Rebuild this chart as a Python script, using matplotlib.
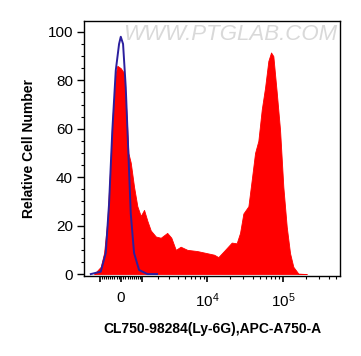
import matplotlib.pyplot as plt
import numpy as np

plt.rcParams['font.family'] = ['Liberation Sans', 'DejaVu Sans']
plt.rcParams['mathtext.fontset'] = 'custom'
plt.rcParams['mathtext.rm'] = 'Liberation Sans'

# sample histogram (red, filled)
sample_x = [-1354, -972, -799, -634, -503, -396, -240, -166, -13, 135, 258, 331,
            442, 600, 763, 939, 1120, 1312, 1524, 1870, 2247, 2820, 3243, 3755,
            4393, 5430, 7405, 10090, 12390, 14110, 17330, 21220, 24630, 27300,
            30180, 35170, 38950, 43040, 47560, 52760, 58320, 64400, 69900, 74940,
            83100, 91860, 101500, 112500, 124400, 137400, 160000, 206300]
sample_y = [0, 3, 8.7, 22, 43, 64, 83, 86, 85, 83, 64, 50,
            46, 36, 28, 24, 26.5, 22, 18, 15.5, 15, 17, 15, 10,
            11.3, 10, 9.5, 8.6, 8, 7, 10, 13, 12.7, 17,
            25, 28, 39, 50, 55, 68, 77, 88, 91.5, 90,
            75, 59.5, 36, 19.5, 8.6, 3, 0.2, 0]

# isotype control (blue line)
ctrl_x = [-1560, -972, -714, -552, -396, -240, -90, -13, 90, 212, 331, 442, 600,
          850, 1312, 1960]
ctrl_y = [0, 1, 8.7, 29, 59.5, 84, 95, 98, 95, 77, 50, 25, 8.7,
          1.7, 0, 0]

major_x = [-1000, 0, 1000, 1e4, 1e5]
major_lbl = ['', '0', '', r'$\mathregular{10^4}$', r'$\mathregular{10^5}$']
minor_x = list(range(-900, 1000, 100)) + [k * 1000 for k in range(2, 10)] + \
    [k * 10000 for k in range(2, 10)] + [k * 100000 for k in range(2, 6)]

W = 1484.0


def biex(x):
    # arcsinh display transform, roughly what the cytometer software uses
    return np.arcsinh(np.asarray(x, dtype=float) / W)


fig = plt.figure(figsize=(3.61, 3.56), dpi=100)
ax = fig.add_axes([0.2327, 0.2247, 0.7091, 0.7163])
ax.set_axisbelow(True)

sx = biex(sample_x)
ax.fill_between(sx, sample_y, 0, facecolor='#ff0000', edgecolor='#ff0000', lw=0.6, zorder=1)
ax.plot(biex(ctrl_x), ctrl_y, color='#2b1f9e', lw=1.4, zorder=3)

ax.set_xlim(biex(-2040), biex(565000))
ax.set_ylim(-0.8, 104.5)

ax.set_xticks(biex(major_x))
ax.set_xticklabels(major_lbl)
ax.set_xticks(biex(minor_x), minor=True)

ax.set_yticks([0, 20, 40, 60, 80, 100])
ax.set_yticks(list(range(10, 101, 20)) + [5, 15, 25, 35, 45, 55, 65, 75, 85, 95], minor=True)

ax.tick_params(axis='x', which='major', length=4, width=1.2, labelsize=11, pad=7)
ax.tick_params(axis='x', which='minor', length=2.5, width=0.8)
ax.tick_params(axis='y', which='major', length=5, width=1, labelsize=11, pad=3)
ax.tick_params(axis='y', which='minor', length=2.5, width=0.8)
for s in ax.spines.values():
    s.set_linewidth(1)
    s.set_zorder(4)

ax.set_ylabel('Relative Cell Number', fontsize=10, fontweight='bold', labelpad=8)
ax.set_xlabel('CL750-98284(Ly-6G),APC-A750-A', fontsize=10, fontweight='bold', labelpad=9)

ax.text(0.99, 0.99, 'WWW.PTGLAB.COM', transform=ax.transAxes, ha='right', va='top',
        fontsize=16, color='#d9d9d9', style='italic', zorder=5)

fig.savefig('out.png', dpi=100)
